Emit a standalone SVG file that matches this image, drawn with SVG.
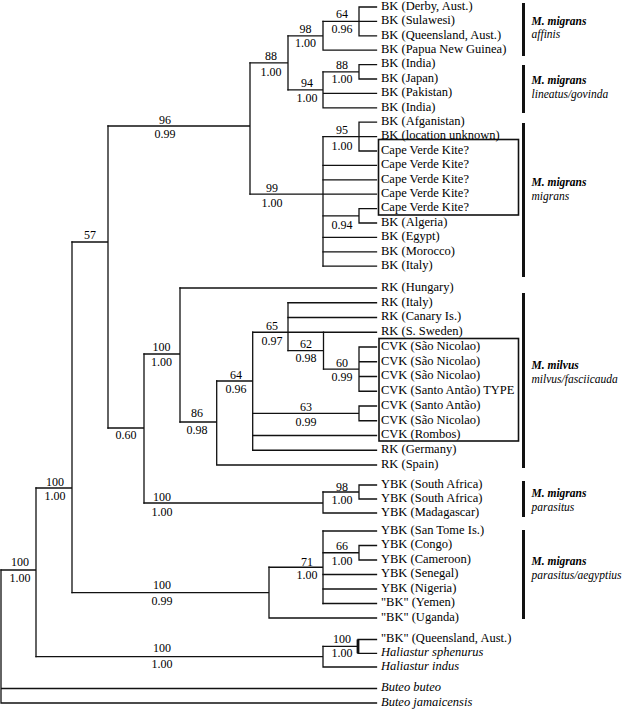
<svg xmlns="http://www.w3.org/2000/svg" width="624" height="709" viewBox="0 0 624 709">
<style>
.br{fill:none;stroke:#111;stroke-width:1.3;stroke-linecap:square}
.lf{font-family:"Liberation Serif","Times New Roman",serif;font-size:12.5px;fill:#000}
.it{font-style:italic}
.nm{font-family:"Liberation Serif","Times New Roman",serif;font-size:12px;fill:#000;text-anchor:middle}
.cl{font-family:"Liberation Serif","Times New Roman",serif;font-size:11.5px;font-style:italic;fill:#000}
.b{font-weight:bold}
.bar{stroke:#111;stroke-width:3}
.box{fill:none;stroke:#111;stroke-width:1.6}
</style>
<rect width="624" height="709" fill="#fff"/>
<g id="connectors" class="br">
<path d="M359,7V35.8M359,7H376.5M359,35.8H376.5M323,21.4H376.5"/>
<path d="M323,21.4V50.2M323,50.2H376.5M288,35.8H323"/>
<path d="M359,64.6V79M359,64.6H376.5M359,79H376.5M323,71.8H359"/>
<path d="M323,71.8V107.8M323,93.4H376.5M323,107.8H376.5M288,89.8H323"/>
<path d="M288,35.8V89.8M250,62.8H288"/>
<path d="M359,122.2V151M359,122.2H376.5M359,151H376.5M323,136.6H376.5"/>
<path d="M323,165.4H376.5M323,179.8H376.5M250,194.2H376.5"/>
<path d="M359,208.6V223M359,208.6H376.5M359,223H376.5M323,215.8H359"/>
<path d="M323,237.4H376.5M323,251.8H376.5M323,266.2H376.5"/>
<path d="M323,136.6V266.2"/>
<path d="M250,62.8V194.2M108,126H250"/>
<path d="M180,288H376.5"/>
<path d="M288,302.75H376.5M288,317.5H376.5M252.7,332.25H376.5"/>
<path d="M359,347V391.25M359,347H376.5M359,361.75H376.5M359,376.5H376.5M359,391.25H376.5M323.5,369.1H359"/>
<path d="M323.5,332.25V369.1M288,350.7H323.5"/>
<path d="M288,302.75V350.7"/>
<path d="M359,406V420.75M359,406H376.5M359,420.75H376.5M252.7,413.4H359"/>
<path d="M252.7,435.5H376.5M252.7,450.25H376.5"/>
<path d="M252.7,332.25V450.25M216.7,381H252.7"/>
<path d="M216.7,465H376.5M216.7,381V465M180,422H216.7"/>
<path d="M180,288V422M144,354H180"/>
<path d="M359,485V499M359,485H376.5M359,499H376.5M323,492H359"/>
<path d="M323,513H376.5M323,492V513M144,503H323"/>
<path d="M144,354V503M108,428H144"/>
<path d="M108,126V428M72,242H108"/>
<path d="M323,531H376.5"/>
<path d="M359,545.5V560M359,545.5H376.5M359,560H376.5M323,552.75H359"/>
<path d="M323,574.5H376.5M323,589H376.5M323,603.5H376.5"/>
<path d="M323,531V603.5M269,567.25H323"/>
<path d="M269,618H376.5M269,567.25V618M72,592.6H269"/>
<path d="M72,242V592.6M36,488H72"/>
<path d="M358,639.5H376.5M358,653.3H376.5M323,646.4H358"/>
<path d="M358,639.5V653.3" style="stroke-width:2.8;stroke-linecap:butt"/>
<path d="M323,667H376.5M323,646.4V667M36,656.7H323"/>
<path d="M36,488V656.7M1,570H36"/>
<path d="M1,570V703M1,688.5H376.5M1,703H376.5"/>
</g>
<g id="boxes">
<rect class="box" x="378.5" y="139.5" width="140" height="75.5"/>
<rect class="box" x="379" y="338.5" width="139.5" height="102.5"/>
</g>
<g id="support">
<text class="nm" x="342" y="18">64</text><text class="nm" x="342" y="32.5">0.96</text>
<text class="nm" x="305.5" y="32.5">98</text><text class="nm" x="305.5" y="47">1.00</text>
<text class="nm" x="271" y="60">88</text><text class="nm" x="271" y="75.5">1.00</text>
<text class="nm" x="342" y="69">88</text><text class="nm" x="342" y="83">1.00</text>
<text class="nm" x="307" y="87">94</text><text class="nm" x="307" y="102">1.00</text>
<text class="nm" x="165" y="123.5">96</text><text class="nm" x="165" y="137.5">0.99</text>
<text class="nm" x="342" y="134">95</text><text class="nm" x="342" y="149.5">1.00</text>
<text class="nm" x="272" y="191.5">99</text><text class="nm" x="272" y="207">1.00</text>
<text class="nm" x="342" y="229">0.94</text>
<text class="nm" x="90" y="239">57</text>
<text class="nm" x="272" y="329.5">65</text><text class="nm" x="272" y="344.5">0.97</text>
<text class="nm" x="161.5" y="351">100</text><text class="nm" x="161.5" y="366">1.00</text>
<text class="nm" x="306" y="348">62</text><text class="nm" x="306" y="361.5">0.98</text>
<text class="nm" x="342" y="366.5">60</text><text class="nm" x="342" y="381">0.99</text>
<text class="nm" x="236" y="378.5">64</text><text class="nm" x="236" y="393">0.96</text>
<text class="nm" x="306" y="410.5">63</text><text class="nm" x="306" y="426">0.99</text>
<text class="nm" x="197" y="417">86</text><text class="nm" x="197" y="434">0.98</text>
<text class="nm" x="126" y="439">0.60</text>
<text class="nm" x="55" y="485.5">100</text><text class="nm" x="55" y="500">1.00</text>
<text class="nm" x="342" y="490.5">98</text><text class="nm" x="342" y="504">1.00</text>
<text class="nm" x="162" y="500.5">100</text><text class="nm" x="162" y="516">1.00</text>
<text class="nm" x="342" y="549.5">66</text><text class="nm" x="342" y="565">1.00</text>
<text class="nm" x="20" y="565.5">100</text><text class="nm" x="20" y="582">1.00</text>
<text class="nm" x="307" y="565.5">71</text><text class="nm" x="307" y="579">1.00</text>
<text class="nm" x="162" y="589">100</text><text class="nm" x="162" y="605">0.99</text>
<text class="nm" x="342" y="643">100</text><text class="nm" x="342" y="657">1.00</text>
<text class="nm" x="162" y="652">100</text><text class="nm" x="162" y="668">1.00</text>
</g>
<g id="leaves" transform="translate(0,-1.2)">
<text class="lf" x="381" y="11">BK (Derby, Aust.)</text>
<text class="lf" x="381" y="25.4">BK (Sulawesi)</text>
<text class="lf" x="381" y="39.8">BK (Queensland, Aust.)</text>
<text class="lf" x="381" y="54.2">BK (Papua New Guinea)</text>
<text class="lf" x="381" y="68.6">BK (India)</text>
<text class="lf" x="381" y="83">BK (Japan)</text>
<text class="lf" x="381" y="97.4">BK (Pakistan)</text>
<text class="lf" x="381" y="111.8">BK (India)</text>
<text class="lf" x="381" y="126.2">BK (Afganistan)</text>
<text class="lf" x="381" y="140.6">BK (location unknown)</text>
<text class="lf" x="381" y="155">Cape Verde Kite?</text>
<text class="lf" x="381" y="169.4">Cape Verde Kite?</text>
<text class="lf" x="381" y="183.8">Cape Verde Kite?</text>
<text class="lf" x="381" y="198.2">Cape Verde Kite?</text>
<text class="lf" x="381" y="212.6">Cape Verde Kite?</text>
<text class="lf" x="381" y="227">BK (Algeria)</text>
<text class="lf" x="381" y="241.4">BK (Egypt)</text>
<text class="lf" x="381" y="255.8">BK (Morocco)</text>
<text class="lf" x="381" y="270.2">BK (Italy)</text>
<text class="lf" x="381" y="292">RK (Hungary)</text>
<text class="lf" x="381" y="306.75">RK (Italy)</text>
<text class="lf" x="381" y="321.5">RK (Canary Is.)</text>
<text class="lf" x="381" y="336.25">RK (S. Sweden)</text>
<text class="lf" x="381" y="351">CVK (São Nicolao)</text>
<text class="lf" x="381" y="365.75">CVK (São Nicolao)</text>
<text class="lf" x="381" y="380.5">CVK (São Nicolao)</text>
<text class="lf" x="381" y="395.25">CVK (Santo Antão) TYPE</text>
<text class="lf" x="381" y="410">CVK (Santo Antão)</text>
<text class="lf" x="381" y="424.75">CVK (São Nicolao)</text>
<text class="lf" x="381" y="439.5">CVK (Rombos)</text>
<text class="lf" x="381" y="454.25">RK (Germany)</text>
<text class="lf" x="381" y="469">RK (Spain)</text>
<text class="lf" x="381" y="489">YBK (South Africa)</text>
<text class="lf" x="381" y="503">YBK (South Africa)</text>
<text class="lf" x="381" y="517">YBK (Madagascar)</text>
<text class="lf" x="381" y="535">YBK (San Tome Is.)</text>
<text class="lf" x="381" y="549.5">YBK (Congo)</text>
<text class="lf" x="381" y="564">YBK (Cameroon)</text>
<text class="lf" x="381" y="578.5">YBK (Senegal)</text>
<text class="lf" x="381" y="593">YBK (Nigeria)</text>
<text class="lf" x="381" y="607.5">"BK" (Yemen)</text>
<text class="lf" x="381" y="622">"BK" (Uganda)</text>
<text class="lf" x="381" y="643.5">"BK" (Queensland, Aust.)</text>
<text class="lf it" x="381" y="657.3">Haliastur sphenurus</text>
<text class="lf it" x="381" y="671">Haliastur indus</text>
<text class="lf it" x="381" y="692.5">Buteo buteo</text>
<text class="lf it" x="381" y="707">Buteo jamaicensis</text>
</g>
<g id="clades">
<line class="bar" x1="523.5" y1="3" x2="523.5" y2="56"/>
<text class="cl" x="531.5" y="25"><tspan class="b">M. migrans</tspan><tspan x="531.5" y="38">affinis</tspan></text>
<line class="bar" x1="523.5" y1="65" x2="523.5" y2="113"/>
<text class="cl" x="531.5" y="84"><tspan class="b">M. migrans</tspan><tspan x="531.5" y="98">lineatus/govinda</tspan></text>
<line class="bar" x1="523.5" y1="123" x2="523.5" y2="277"/>
<text class="cl" x="531.5" y="186"><tspan class="b">M. migrans</tspan><tspan x="531.5" y="199.5">migrans</tspan></text>
<line class="bar" x1="523.5" y1="293" x2="523.5" y2="468"/>
<text class="cl" x="531.5" y="368.5"><tspan class="b">M. milvus</tspan><tspan x="531.5" y="383">milvus/fasciicauda</tspan></text>
<line class="bar" x1="523.5" y1="481" x2="523.5" y2="517"/>
<text class="cl" x="531.5" y="497"><tspan class="b">M. migrans</tspan><tspan x="531.5" y="511">parasitus</tspan></text>
<line class="bar" x1="523.5" y1="530" x2="523.5" y2="619"/>
<text class="cl" x="531.5" y="564.5"><tspan class="b">M. migrans</tspan><tspan x="531.5" y="578.5">parasitus/aegyptius</tspan></text>
</g>
</svg>
